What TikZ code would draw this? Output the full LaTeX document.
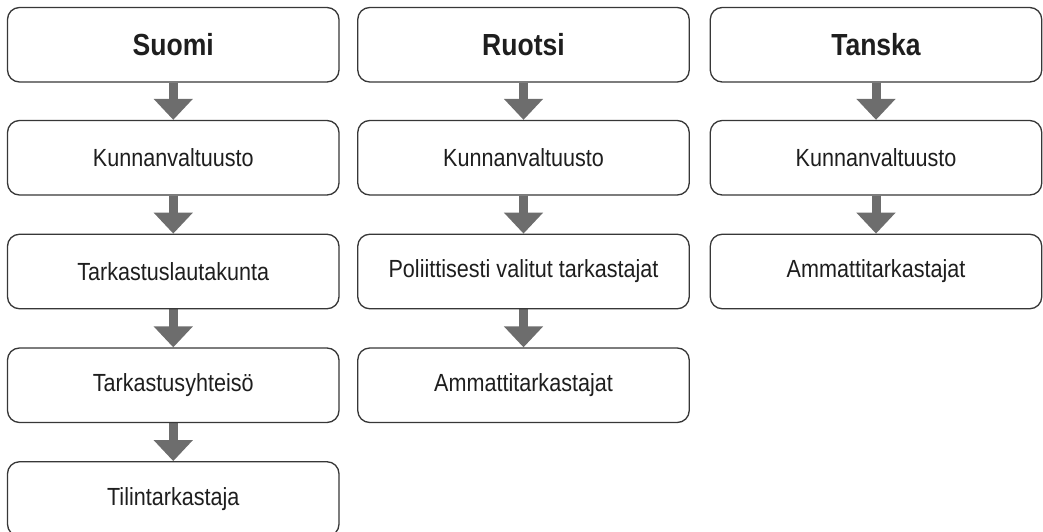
\documentclass[tikz,border=0pt]{standalone}
\usepackage{fontspec}
\setmainfont{Liberation Sans}[FakeStretch=0.87]
\usetikzlibrary{arrows.meta,backgrounds}
\definecolor{boxline}{RGB}{55,55,55}
\definecolor{arrowgray}{RGB}{109,109,109}
\definecolor{txt}{RGB}{30,30,30}
\tikzset{
  x=1pt, y=-1pt,
  box/.style={draw=boxline, line width=1.3pt, fill=white, rounded corners=12pt,
    minimum width=331.5pt, minimum height=74.5pt, inner sep=0pt, text=txt,
    font=\fontsize{24.8}{29}\selectfont},
  head/.style={box, font=\fontsize{30.5}{35}\selectfont\bfseries},
  flow/.style={draw=arrowgray, line width=9pt,
    -{Triangle[width=38pt,length=21pt]}}
}
\begin{document}
\begin{tikzpicture}
\useasboundingbox (0,0) rectangle (1043,532);
% column 1
\node[head] (s0) at (173.25,44.75) {Suomi};
\node[box]  (s1) at (173.25,157.75) {Kunnanvaltuusto};
\node[box]  (s2) at (173.25,271.5) {Tarkastuslautakunta};
\node[box]  (s3) at (173.25,385.25) {Tarkastusyhteisö};
\node[box]  (s4) at (173.25,499) {Tilintarkastaja};
% column 2
\node[head] (r0) at (523.5,44.75) {Ruotsi};
\node[box]  (r1) at (523.5,157.75) {Kunnanvaltuusto};
\node[box]  (r2) at (523.5,271.5) {Poliittisesti valitut tarkastajat};
\node[box]  (r3) at (523.5,385.25) {Ammattitarkastajat};
% column 3
\node[head] (t0) at (876,44.75) {Tanska};
\node[box]  (t1) at (876,157.75) {Kunnanvaltuusto};
\node[box]  (t2) at (876,271.5) {Ammattitarkastajat};
\begin{scope}[on background layer]
\foreach \a/\b in {s0/s1,s1/s2,s2/s3,s3/s4,r0/r1,r1/r2,r2/r3,t0/t1,t1/t2}
  \draw[flow] (\a.south) -- (\b.north);
\end{scope}
\end{tikzpicture}
\end{document}
